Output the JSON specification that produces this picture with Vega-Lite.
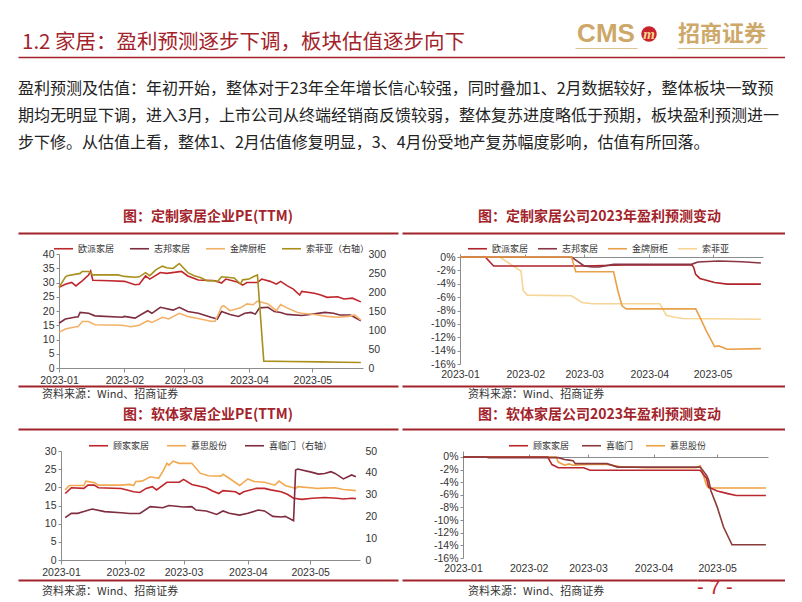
{
"$schema": "https://vega.github.io/schema/vega-lite/v6.json",
"background": "white",
"padding": {"left": 18, "top": 21, "right": 0, "bottom": 0},
"columns": 1,
"spacing": 0,
"align": "none",
"resolve": {"scale": {"color": "independent"}},
"config": {
  "font": "Noto Sans CJK SC",
  "view": {"stroke": null},
  "axis": {"labelFont": "Liberation Sans", "labelFontSize": 10.5, "labelColor": "#333333", "domainColor": "#8c8c8c", "tickColor": "#8c8c8c", "grid": false, "tickSize": 3, "labelPadding": 2},
  "legend": {"orient": "top", "direction": "horizontal", "symbolType": "stroke", "symbolSize": 361, "symbolStrokeWidth": 2, "labelFont": "Noto Sans CJK SC", "labelFontSize": 9, "labelColor": "#333333", "padding": 0, "labelOffset": 4, "layout": {"top": {"anchor": "middle"}}},
  "title": {"font": "Noto Sans CJK SC", "fontWeight": "bold", "fontSize": 14, "color": "#A3232A", "anchor": "middle", "offset": 8},
  "line": {"strokeWidth": 1.6}
},
"datasets": {
  "pe1a": [
    {"d":"2023-01-01","s":"欧派家居","v":28.3},{"d":"2023-01-04","s":"欧派家居","v":29.4},{"d":"2023-01-07","s":"欧派家居","v":30.0},{"d":"2023-01-09","s":"欧派家居","v":28.8},{"d":"2023-01-12","s":"欧派家居","v":30.6},{"d":"2023-01-15","s":"欧派家居","v":32.6},{"d":"2023-01-16","s":"欧派家居","v":34.0},{"d":"2023-01-17","s":"欧派家居","v":30.8},{"d":"2023-01-25","s":"欧派家居","v":30.6},{"d":"2023-02-01","s":"欧派家居","v":30.4},{"d":"2023-02-06","s":"欧派家居","v":29.2},{"d":"2023-02-08","s":"欧派家居","v":29.4},{"d":"2023-02-11","s":"欧派家居","v":32.3},{"d":"2023-02-13","s":"欧派家居","v":31.2},{"d":"2023-02-18","s":"欧派家居","v":33.5},{"d":"2023-02-21","s":"欧派家居","v":33.2},{"d":"2023-02-28","s":"欧派家居","v":33.9},{"d":"2023-03-03","s":"欧派家居","v":32.3},{"d":"2023-03-08","s":"欧派家居","v":30.9},{"d":"2023-03-16","s":"欧派家居","v":30.6},{"d":"2023-03-19","s":"欧派家居","v":29.8},{"d":"2023-03-21","s":"欧派家居","v":31.2},{"d":"2023-03-26","s":"欧派家居","v":30.3},{"d":"2023-03-29","s":"欧派家居","v":29.1},{"d":"2023-03-31","s":"欧派家居","v":30.0},{"d":"2023-04-05","s":"欧派家居","v":30.0},{"d":"2023-04-07","s":"欧派家居","v":31.2},{"d":"2023-04-11","s":"欧派家居","v":30.4},{"d":"2023-04-14","s":"欧派家居","v":29.4},{"d":"2023-04-16","s":"欧派家居","v":30.4},{"d":"2023-04-19","s":"欧派家居","v":28.9},{"d":"2023-04-22","s":"欧派家居","v":27.7},{"d":"2023-04-25","s":"欧派家居","v":25.6},{"d":"2023-04-26","s":"欧派家居","v":26.9},{"d":"2023-05-02","s":"欧派家居","v":26.2},{"d":"2023-05-05","s":"欧派家居","v":25.6},{"d":"2023-05-08","s":"欧派家居","v":24.8},{"d":"2023-05-13","s":"欧派家居","v":25.0},{"d":"2023-05-16","s":"欧派家居","v":24.2},{"d":"2023-05-20","s":"欧派家居","v":24.5},{"d":"2023-05-24","s":"欧派家居","v":23.2},
    {"d":"2023-01-01","s":"志邦家居","v":15.7},{"d":"2023-01-04","s":"志邦家居","v":17.2},{"d":"2023-01-09","s":"志邦家居","v":17.9},{"d":"2023-01-10","s":"志邦家居","v":17.9},{"d":"2023-01-11","s":"志邦家居","v":19.5},{"d":"2023-01-15","s":"志邦家居","v":19.2},{"d":"2023-01-18","s":"志邦家居","v":18.3},{"d":"2023-01-31","s":"志邦家居","v":17.8},{"d":"2023-02-01","s":"志邦家居","v":18.1},{"d":"2023-02-06","s":"志邦家居","v":17.5},{"d":"2023-02-12","s":"志邦家居","v":20.1},{"d":"2023-02-14","s":"志邦家居","v":19.2},{"d":"2023-02-18","s":"志邦家居","v":21.3},{"d":"2023-02-24","s":"志邦家居","v":20.3},{"d":"2023-02-27","s":"志邦家居","v":21.3},{"d":"2023-03-03","s":"志邦家居","v":19.8},{"d":"2023-03-08","s":"志邦家居","v":19.2},{"d":"2023-03-14","s":"志邦家居","v":17.8},{"d":"2023-03-17","s":"志邦家居","v":17.2},{"d":"2023-03-19","s":"志邦家居","v":19.8},{"d":"2023-03-23","s":"志邦家居","v":18.8},{"d":"2023-03-27","s":"志邦家居","v":18.1},{"d":"2023-03-30","s":"志邦家居","v":19.2},{"d":"2023-04-02","s":"志邦家居","v":19.5},{"d":"2023-04-04","s":"志邦家居","v":18.9},{"d":"2023-04-06","s":"志邦家居","v":21.1},{"d":"2023-04-10","s":"志邦家居","v":21.3},{"d":"2023-04-13","s":"志邦家居","v":19.8},{"d":"2023-04-16","s":"志邦家居","v":19.5},{"d":"2023-04-19","s":"志邦家居","v":18.8},{"d":"2023-04-26","s":"志邦家居","v":18.4},{"d":"2023-05-02","s":"志邦家居","v":19.0},{"d":"2023-05-07","s":"志邦家居","v":19.5},{"d":"2023-05-11","s":"志邦家居","v":19.2},{"d":"2023-05-14","s":"志邦家居","v":18.6},{"d":"2023-05-19","s":"志邦家居","v":18.6},{"d":"2023-05-24","s":"志邦家居","v":16.6},
    {"d":"2023-01-01","s":"金牌厨柜","v":12.5},{"d":"2023-01-04","s":"金牌厨柜","v":13.7},{"d":"2023-01-09","s":"金牌厨柜","v":14.5},{"d":"2023-01-10","s":"金牌厨柜","v":14.5},{"d":"2023-01-12","s":"金牌厨柜","v":16.3},{"d":"2023-01-15","s":"金牌厨柜","v":16.3},{"d":"2023-01-18","s":"金牌厨柜","v":15.2},{"d":"2023-01-31","s":"金牌厨柜","v":15.0},{"d":"2023-02-04","s":"金牌厨柜","v":14.5},{"d":"2023-02-08","s":"金牌厨柜","v":15.0},{"d":"2023-02-12","s":"金牌厨柜","v":16.6},{"d":"2023-02-14","s":"金牌厨柜","v":16.0},{"d":"2023-02-19","s":"金牌厨柜","v":17.8},{"d":"2023-02-22","s":"金牌厨柜","v":17.2},{"d":"2023-02-27","s":"金牌厨柜","v":19.2},{"d":"2023-03-03","s":"金牌厨柜","v":18.1},{"d":"2023-03-09","s":"金牌厨柜","v":17.2},{"d":"2023-03-14","s":"金牌厨柜","v":16.4},{"d":"2023-03-16","s":"金牌厨柜","v":16.4},{"d":"2023-03-19","s":"金牌厨柜","v":21.5},{"d":"2023-03-20","s":"金牌厨柜","v":21.9},{"d":"2023-03-23","s":"金牌厨柜","v":20.1},{"d":"2023-03-28","s":"金牌厨柜","v":21.1},{"d":"2023-03-31","s":"金牌厨柜","v":22.5},{"d":"2023-04-03","s":"金牌厨柜","v":22.2},{"d":"2023-04-05","s":"金牌厨柜","v":23.5},{"d":"2023-04-10","s":"金牌厨柜","v":22.5},{"d":"2023-04-14","s":"金牌厨柜","v":20.1},{"d":"2023-04-16","s":"金牌厨柜","v":22.3},{"d":"2023-04-19","s":"金牌厨柜","v":21.1},{"d":"2023-04-24","s":"金牌厨柜","v":19.5},{"d":"2023-04-26","s":"金牌厨柜","v":19.2},{"d":"2023-05-02","s":"金牌厨柜","v":18.8},{"d":"2023-05-08","s":"金牌厨柜","v":18.1},{"d":"2023-05-13","s":"金牌厨柜","v":17.8},{"d":"2023-05-18","s":"金牌厨柜","v":18.1},{"d":"2023-05-21","s":"金牌厨柜","v":18.6},{"d":"2023-05-24","s":"金牌厨柜","v":16.8}
  ],
  "pe1b": [
    {"d":"2023-01-01","s":"索菲亚（右轴）","v":212},{"d":"2023-01-04","s":"索菲亚（右轴）","v":239},{"d":"2023-01-05","s":"索菲亚（右轴）","v":243},{"d":"2023-01-11","s":"索菲亚（右轴）","v":249},{"d":"2023-01-12","s":"索菲亚（右轴）","v":254},{"d":"2023-01-15","s":"索菲亚（右轴）","v":254},{"d":"2023-01-17","s":"索菲亚（右轴）","v":245},{"d":"2023-01-29","s":"索菲亚（右轴）","v":245},{"d":"2023-02-01","s":"索菲亚（右轴）","v":241},{"d":"2023-02-06","s":"索菲亚（右轴）","v":239},{"d":"2023-02-08","s":"索菲亚（右轴）","v":240},{"d":"2023-02-11","s":"索菲亚（右轴）","v":251},{"d":"2023-02-13","s":"索菲亚（右轴）","v":243},{"d":"2023-02-16","s":"索菲亚（右轴）","v":259},{"d":"2023-02-19","s":"索菲亚（右轴）","v":268},{"d":"2023-02-21","s":"索菲亚（右轴）","v":264},{"d":"2023-02-24","s":"索菲亚（右轴）","v":262},{"d":"2023-02-27","s":"索菲亚（右轴）","v":275},{"d":"2023-02-28","s":"索菲亚（右轴）","v":269},{"d":"2023-03-03","s":"索菲亚（右轴）","v":251},{"d":"2023-03-06","s":"索菲亚（右轴）","v":243},{"d":"2023-03-09","s":"索菲亚（右轴）","v":238},{"d":"2023-03-12","s":"索菲亚（右轴）","v":230},{"d":"2023-03-15","s":"索菲亚（右轴）","v":230},{"d":"2023-03-17","s":"索菲亚（右轴）","v":227},{"d":"2023-03-19","s":"索菲亚（右轴）","v":240},{"d":"2023-03-25","s":"索菲亚（右轴）","v":237},{"d":"2023-03-28","s":"索菲亚（右轴）","v":221},{"d":"2023-03-29","s":"索菲亚（右轴）","v":232},{"d":"2023-04-01","s":"索菲亚（右轴）","v":234},{"d":"2023-04-03","s":"索菲亚（右轴）","v":240},{"d":"2023-04-05","s":"索菲亚（右轴）","v":245},{"d":"2023-04-08","s":"索菲亚（右轴）","v":18},{"d":"2023-04-20","s":"索菲亚（右轴）","v":17},{"d":"2023-05-05","s":"索菲亚（右轴）","v":16},{"d":"2023-05-15","s":"索菲亚（右轴）","v":15},{"d":"2023-05-24","s":"索菲亚（右轴）","v":14.5}
  ],
  "fc1a": [
    {"d":"2023-01-01","s":"欧派家居","v":0},{"d":"2023-01-13","s":"欧派家居","v":0},{"d":"2023-01-17","s":"欧派家居","v":-1.35},{"d":"2023-03-01","s":"欧派家居","v":-1.35},{"d":"2023-03-20","s":"欧派家居","v":-1.2},{"d":"2023-04-21","s":"欧派家居","v":-1.15},{"d":"2023-04-22","s":"欧派家居","v":-1.5},{"d":"2023-04-23","s":"欧派家居","v":-2.6},{"d":"2023-04-25","s":"欧派家居","v":-3.2},{"d":"2023-05-02","s":"欧派家居","v":-3.8},{"d":"2023-05-08","s":"欧派家居","v":-4.05},{"d":"2023-05-24","s":"欧派家居","v":-4.05},
    {"d":"2023-01-01","s":"志邦家居","v":0},{"d":"2023-02-23","s":"志邦家居","v":0},{"d":"2023-03-01","s":"志邦家居","v":-1.33},{"d":"2023-03-05","s":"志邦家居","v":-1.5},{"d":"2023-03-08","s":"志邦家居","v":-1.5},{"d":"2023-03-15","s":"志邦家居","v":-1.1},{"d":"2023-04-21","s":"志邦家居","v":-1.1},{"d":"2023-04-24","s":"志邦家居","v":-0.75},{"d":"2023-05-04","s":"志邦家居","v":-0.6},{"d":"2023-05-15","s":"志邦家居","v":-0.7},{"d":"2023-05-24","s":"志邦家居","v":-0.9},
    {"d":"2023-01-01","s":"金牌厨柜","v":0},{"d":"2023-02-23","s":"金牌厨柜","v":0},{"d":"2023-02-25","s":"金牌厨柜","v":-2.2},{"d":"2023-03-15","s":"金牌厨柜","v":-2.2},{"d":"2023-03-17","s":"金牌厨柜","v":-5.0},{"d":"2023-03-19","s":"金牌厨柜","v":-7.3},{"d":"2023-03-21","s":"金牌厨柜","v":-7.75},{"d":"2023-04-23","s":"金牌厨柜","v":-7.75},{"d":"2023-04-25","s":"金牌厨柜","v":-9.0},{"d":"2023-04-28","s":"金牌厨柜","v":-11.0},{"d":"2023-05-02","s":"金牌厨柜","v":-13.4},{"d":"2023-05-04","s":"金牌厨柜","v":-13.3},{"d":"2023-05-08","s":"金牌厨柜","v":-13.8},{"d":"2023-05-24","s":"金牌厨柜","v":-13.7}
  ],
  "fc1b": [
    {"d":"2023-01-01","s":"索菲亚","v":0},{"d":"2023-01-20","s":"索菲亚","v":0},{"d":"2023-01-26","s":"索菲亚","v":-1.3},{"d":"2023-01-30","s":"索菲亚","v":-2.1},{"d":"2023-01-31","s":"索菲亚","v":-5.0},{"d":"2023-02-02","s":"索菲亚","v":-5.7},{"d":"2023-02-23","s":"索菲亚","v":-5.8},{"d":"2023-02-28","s":"索菲亚","v":-6.8},{"d":"2023-03-05","s":"索菲亚","v":-7.0},{"d":"2023-04-06","s":"索菲亚","v":-7.0},{"d":"2023-04-09","s":"索菲亚","v":-8.7},{"d":"2023-04-13","s":"索菲亚","v":-9.0},{"d":"2023-04-17","s":"索菲亚","v":-9.2},{"d":"2023-05-24","s":"索菲亚","v":-9.3}
  ],
  "pe2a": [
    {"d":"2023-01-03","s":"顾家家居","v":18.3},{"d":"2023-01-04","s":"顾家家居","v":18.8},{"d":"2023-01-06","s":"顾家家居","v":19.9},{"d":"2023-01-12","s":"顾家家居","v":19.7},{"d":"2023-01-14","s":"顾家家居","v":20.6},{"d":"2023-01-17","s":"顾家家居","v":20.6},{"d":"2023-01-19","s":"顾家家居","v":19.9},{"d":"2023-01-30","s":"顾家家居","v":19.7},{"d":"2023-02-05","s":"顾家家居","v":18.8},{"d":"2023-02-08","s":"顾家家居","v":18.6},{"d":"2023-02-11","s":"顾家家居","v":19.7},{"d":"2023-02-14","s":"顾家家居","v":20.2},{"d":"2023-02-16","s":"顾家家居","v":19.3},{"d":"2023-02-21","s":"顾家家居","v":21.4},{"d":"2023-02-27","s":"顾家家居","v":21.4},{"d":"2023-03-01","s":"顾家家居","v":22.2},{"d":"2023-03-05","s":"顾家家居","v":20.8},{"d":"2023-03-12","s":"顾家家居","v":19.9},{"d":"2023-03-15","s":"顾家家居","v":19.0},{"d":"2023-03-18","s":"顾家家居","v":18.3},{"d":"2023-03-20","s":"顾家家居","v":19.1},{"d":"2023-03-26","s":"顾家家居","v":18.8},{"d":"2023-03-28","s":"顾家家居","v":18.1},{"d":"2023-03-30","s":"顾家家居","v":18.8},{"d":"2023-04-05","s":"顾家家居","v":19.7},{"d":"2023-04-09","s":"顾家家居","v":19.7},{"d":"2023-04-12","s":"顾家家居","v":19.3},{"d":"2023-04-17","s":"顾家家居","v":18.8},{"d":"2023-04-20","s":"顾家家居","v":18.1},{"d":"2023-04-23","s":"顾家家居","v":17.0},{"d":"2023-04-27","s":"顾家家居","v":16.7},{"d":"2023-05-02","s":"顾家家居","v":17.0},{"d":"2023-05-08","s":"顾家家居","v":17.2},{"d":"2023-05-14","s":"顾家家居","v":17.0},{"d":"2023-05-17","s":"顾家家居","v":16.8},{"d":"2023-05-21","s":"顾家家居","v":17.0},{"d":"2023-05-23","s":"顾家家居","v":16.9},
    {"d":"2023-01-03","s":"慕思股份","v":19.3},{"d":"2023-01-05","s":"慕思股份","v":20.5},{"d":"2023-01-12","s":"慕思股份","v":20.5},{"d":"2023-01-13","s":"慕思股份","v":21.7},{"d":"2023-01-17","s":"慕思股份","v":21.3},{"d":"2023-01-19","s":"慕思股份","v":20.6},{"d":"2023-01-30","s":"慕思股份","v":20.6},{"d":"2023-02-03","s":"慕思股份","v":20.8},{"d":"2023-02-05","s":"慕思股份","v":20.5},{"d":"2023-02-06","s":"慕思股份","v":21.6},{"d":"2023-02-09","s":"慕思股份","v":21.7},{"d":"2023-02-13","s":"慕思股份","v":22.9},{"d":"2023-02-17","s":"慕思股份","v":22.5},{"d":"2023-02-19","s":"慕思股份","v":24.3},{"d":"2023-02-21","s":"慕思股份","v":26.6},{"d":"2023-02-22","s":"慕思股份","v":26.1},{"d":"2023-02-24","s":"慕思股份","v":27.2},{"d":"2023-02-27","s":"慕思股份","v":26.6},{"d":"2023-03-05","s":"慕思股份","v":26.6},{"d":"2023-03-09","s":"慕思股份","v":23.9},{"d":"2023-03-13","s":"慕思股份","v":23.2},{"d":"2023-03-19","s":"慕思股份","v":23.1},{"d":"2023-03-20","s":"慕思股份","v":23.6},{"d":"2023-03-23","s":"慕思股份","v":22.5},{"d":"2023-03-28","s":"慕思股份","v":20.5},{"d":"2023-04-01","s":"慕思股份","v":22.3},{"d":"2023-04-04","s":"慕思股份","v":21.6},{"d":"2023-04-09","s":"慕思股份","v":21.4},{"d":"2023-04-14","s":"慕思股份","v":20.6},{"d":"2023-04-16","s":"慕思股份","v":21.7},{"d":"2023-04-19","s":"慕思股份","v":20.5},{"d":"2023-04-24","s":"慕思股份","v":19.7},{"d":"2023-04-25","s":"慕思股份","v":20.2},{"d":"2023-05-05","s":"慕思股份","v":19.7},{"d":"2023-05-13","s":"慕思股份","v":19.9},{"d":"2023-05-17","s":"慕思股份","v":19.4},{"d":"2023-05-23","s":"慕思股份","v":19.1}
  ],
  "pe2b": [
    {"d":"2023-01-03","s":"喜临门（右轴）","v":19.4},{"d":"2023-01-06","s":"喜临门（右轴）","v":21.4},{"d":"2023-01-09","s":"喜临门（右轴）","v":21.4},{"d":"2023-01-12","s":"喜临门（右轴）","v":22.2},{"d":"2023-01-16","s":"喜临门（右轴）","v":23.4},{"d":"2023-01-22","s":"喜临门（右轴）","v":22.2},{"d":"2023-01-30","s":"喜临门（右轴）","v":21.7},{"d":"2023-02-03","s":"喜临门（右轴）","v":21.3},{"d":"2023-02-08","s":"喜临门（右轴）","v":21.4},{"d":"2023-02-13","s":"喜临门（右轴）","v":24.5},{"d":"2023-02-19","s":"喜临门（右轴）","v":24.0},{"d":"2023-02-22","s":"喜临门（右轴）","v":25.0},{"d":"2023-03-01","s":"喜临门（右轴）","v":24.3},{"d":"2023-03-05","s":"喜临门（右轴）","v":24.5},{"d":"2023-03-07","s":"喜临门（右轴）","v":22.9},{"d":"2023-03-12","s":"喜临门（右轴）","v":22.5},{"d":"2023-03-17","s":"喜临门（右轴）","v":20.9},{"d":"2023-03-20","s":"喜临门（右轴）","v":22.5},{"d":"2023-03-23","s":"喜临门（右轴）","v":21.4},{"d":"2023-03-28","s":"喜临门（右轴）","v":20.6},{"d":"2023-04-01","s":"喜临门（右轴）","v":21.4},{"d":"2023-04-06","s":"喜临门（右轴）","v":22.9},{"d":"2023-04-09","s":"喜临门（右轴）","v":22.5},{"d":"2023-04-13","s":"喜临门（右轴）","v":20.0},{"d":"2023-04-17","s":"喜临门（右轴）","v":19.7},{"d":"2023-04-19","s":"喜临门（右轴）","v":20.0},{"d":"2023-04-23","s":"喜临门（右轴）","v":18.0},{"d":"2023-04-24","s":"喜临门（右轴）","v":41.3},{"d":"2023-04-25","s":"喜临门（右轴）","v":41.7},{"d":"2023-05-02","s":"喜临门（右轴）","v":40.2},{"d":"2023-05-05","s":"喜临门（右轴）","v":39.4},{"d":"2023-05-08","s":"喜临门（右轴）","v":39.7},{"d":"2023-05-11","s":"喜临门（右轴）","v":40.5},{"d":"2023-05-13","s":"喜临门（右轴）","v":39.7},{"d":"2023-05-17","s":"喜临门（右轴）","v":37.2},{"d":"2023-05-21","s":"喜临门（右轴）","v":39.0},{"d":"2023-05-23","s":"喜临门（右轴）","v":38.2}
  ],
  "fc2a": [
    {"d":"2023-01-01","s":"顾家家居","v":0},{"d":"2023-02-10","s":"顾家家居","v":0},{"d":"2023-02-12","s":"顾家家居","v":-1.2},{"d":"2023-02-15","s":"顾家家居","v":-1.7},{"d":"2023-02-27","s":"顾家家居","v":-1.7},{"d":"2023-03-02","s":"顾家家居","v":-2.1},{"d":"2023-04-23","s":"顾家家居","v":-2.1},{"d":"2023-04-26","s":"顾家家居","v":-3.4},{"d":"2023-04-27","s":"顾家家居","v":-4.8},{"d":"2023-05-01","s":"顾家家居","v":-5.4},{"d":"2023-05-06","s":"顾家家居","v":-5.8},{"d":"2023-05-10","s":"顾家家居","v":-6.1},{"d":"2023-05-24","s":"顾家家居","v":-6.1},
    {"d":"2023-01-01","s":"喜临门","v":0},{"d":"2023-01-12","s":"喜临门","v":0},{"d":"2023-01-13","s":"喜临门","v":-0.1},{"d":"2023-02-15","s":"喜临门","v":-0.1},{"d":"2023-02-18","s":"喜临门","v":-0.4},{"d":"2023-02-20","s":"喜临门","v":-0.5},{"d":"2023-02-22","s":"喜临门","v":-0.6},{"d":"2023-02-23","s":"喜临门","v":-1.05},{"d":"2023-03-10","s":"喜临门","v":-1.05},{"d":"2023-03-15","s":"喜临门","v":-1.6},{"d":"2023-04-23","s":"喜临门","v":-1.6},{"d":"2023-04-26","s":"喜临门","v":-2.9},{"d":"2023-04-27","s":"喜临门","v":-3.7},{"d":"2023-04-28","s":"喜临门","v":-5.3},{"d":"2023-05-01","s":"喜临门","v":-7.9},{"d":"2023-05-04","s":"喜临门","v":-11.1},{"d":"2023-05-08","s":"喜临门","v":-13.9},{"d":"2023-05-24","s":"喜临门","v":-13.9}
  ],
  "fc2b": [
    {"d":"2023-01-01","s":"慕思股份","v":0},{"d":"2023-02-14","s":"慕思股份","v":0},{"d":"2023-02-15","s":"慕思股份","v":-0.8},{"d":"2023-02-18","s":"慕思股份","v":-1.3},{"d":"2023-02-20","s":"慕思股份","v":-1.1},{"d":"2023-02-22","s":"慕思股份","v":-1.3},{"d":"2023-03-01","s":"慕思股份","v":-1.2},{"d":"2023-03-10","s":"慕思股份","v":-1.2},{"d":"2023-03-16","s":"慕思股份","v":-1.5},{"d":"2023-03-28","s":"慕思股份","v":-1.7},{"d":"2023-04-21","s":"慕思股份","v":-1.7},{"d":"2023-04-23","s":"慕思股份","v":-1.4},{"d":"2023-04-24","s":"慕思股份","v":-2.4},{"d":"2023-04-26","s":"慕思股份","v":-4.5},{"d":"2023-04-27","s":"慕思股份","v":-4.9},{"d":"2023-05-24","s":"慕思股份","v":-4.9}
  ]
},
"concat": [
  {
    "columns": 6, "spacing": 0, "align": "none",
    "concat": [
      {"width": 557, "height": 34, "data": {"values": [{"t": "1.2 家居：盈利预测逐步下调，板块估值逐步向下"}]},
       "mark": {"type": "text", "align": "left", "baseline": "middle", "dx": 4, "dy": 3, "fontSize": 20.5, "color": "#A3232A"},
       "encoding": {"x": {"datum": 0, "type": "quantitative", "scale": {"domain": [0, 1]}, "axis": null}, "text": {"field": "t"}}},
      {"width": 62, "height": 22, "data": {"values": [{"k": 1}]},
       "layer": [
         {"mark": {"type": "text", "text": "CMS", "font": "Liberation Sans", "fontWeight": "bold", "fontSize": 26, "color": "#CDA869", "baseline": "middle", "align": "center"}},
         {"data": {"values": []}, "mark": "point", "encoding": {"x": {"field": "v", "type": "quantitative", "scale": {"domain": [0, 1]}, "axis": {"orient": "bottom", "domainColor": "#DCC38F", "domainWidth": 1, "ticks": false, "labels": false, "title": null, "offset": 3}}}}
       ]},
      {"width": 24, "height": 22, "data": {"values": [{"k": 1}]},
       "layer": [
         {"mark": {"type": "point", "shape": "circle", "filled": true, "size": 240, "color": "#C8232C", "opacity": 1}},
         {"mark": {"type": "text", "text": "m", "font": "Liberation Serif", "fontStyle": "italic", "fontWeight": "bold", "fontSize": 15, "color": "#F4D58D", "baseline": "middle", "align": "center"}}
       ]},
      {"width": 16, "height": 1, "data": {"values": []}, "mark": "point"},
      {"width": 90, "height": 22, "data": {"values": [{"k": 1}]},
       "layer": [
         {"mark": {"type": "text", "text": "招商证券", "fontWeight": "bold", "fontSize": 22, "color": "#CDA869", "baseline": "middle", "align": "center"}},
         {"data": {"values": []}, "mark": "point", "encoding": {"x": {"field": "v", "type": "quantitative", "scale": {"domain": [0, 1]}, "axis": {"orient": "bottom", "domainColor": "#DCC38F", "domainWidth": 1, "ticks": false, "labels": false, "title": null, "offset": 3}}}}
       ]},
      {"width": 1, "height": 1, "data": {"values": []}, "mark": "point"}
    ]
  },
  {"width": 767, "height": 153,
   "data": {"values": [
     {"n": 1, "t": "盈利预测及估值：年初开始，整体对于23年全年增长信心较强，同时叠加1、2月数据较好，整体板块一致预"},
     {"n": 2, "t": "期均无明显下调，进入3月，上市公司从终端经销商反馈较弱，整体复苏进度略低于预期，板块盈利预测进一"},
     {"n": 3, "t": "步下修。从估值上看，整体1、2月估值修复明显，3、4月份受地产复苏幅度影响，估值有所回落。"}
   ]},
   "mark": {"type": "text", "align": "left", "baseline": "middle", "fontSize": 16, "color": "#222222"},
   "encoding": {
     "x": {"datum": 0, "type": "quantitative", "scale": {"domain": [0, 1]}, "axis": {"orient": "top", "domainColor": "#A3232A", "domainWidth": 1.5, "ticks": false, "labels": false, "title": null}},
     "y": {"field": "n", "type": "quantitative", "scale": {"domain": [-0.185, 5.482], "reverse": true, "nice": false, "zero": false}, "axis": null},
     "text": {"field": "t"}
   }},
  {
    "columns": 2, "spacing": 4, "align": "none",
    "concat": [
      {"width": 380, "height": 1, "data": {"values": []}, "mark": "point",
       "encoding": {"x": {"field": "v", "type": "quantitative", "scale": {"domain": [0, 1]}, "axis": {"orient": "bottom", "domainColor": "#A3232A", "domainWidth": 2, "ticks": false, "labels": false, "title": null, "minExtent": 5}}},
       "title": {"text": "图：定制家居企业PE(TTM)"}},
      {"width": 383, "height": 1, "data": {"values": []}, "mark": "point",
       "encoding": {"x": {"field": "v", "type": "quantitative", "scale": {"domain": [0, 1]}, "axis": {"orient": "bottom", "domainColor": "#A3232A", "domainWidth": 2, "ticks": false, "labels": false, "title": null, "minExtent": 5}}},
       "title": {"text": "图：定制家居公司2023年盈利预测变动", "dx": 6}}
    ]
  },
  {
    "columns": 3, "spacing": 0, "align": "none",
    "resolve": {"scale": {"color": "independent"}},
    "concat": [
      {"width": 1, "height": 1, "data": {"values": []}, "mark": "point"},
      {"width": 304, "height": 114,
       "encoding": {
         "x": {"field": "d", "type": "temporal", "scale": {"type": "utc", "domain": [{"year": 2023, "month": 1, "date": 1, "utc": true}, {"year": 2023, "month": 5, "date": 25, "utc": true}]}, "axis": {"title": null, "format": "%Y-%m", "tickCount": {"interval": "month", "step": 1}, "labelPadding": 3, "minExtent": 17, "labelFlush": false, "tickSize": 4}},
         "color": {"field": "s", "type": "nominal", "scale": {"domain": ["欧派家居", "志邦家居", "金牌厨柜", "索菲亚（右轴）"], "range": ["#C0272D", "#7E2C3F", "#F3B168", "#A88F1C"]}, "legend": {"title": null, "columnPadding": 11, "offset": 0}}
       },
       "layer": [
         {"data": {"name": "pe1a"}, "mark": "line", "encoding": {"y": {"field": "v", "type": "quantitative", "scale": {"domain": [0, 40]}, "axis": {"orient": "left", "title": null, "values": [0, 5, 10, 15, 20, 25, 30, 35, 40], "minExtent": 40}}}},
         {"data": {"name": "pe1b"}, "mark": "line", "encoding": {"y": {"field": "v", "type": "quantitative", "scale": {"domain": [0, 300]}, "axis": {"orient": "right", "title": null, "values": [0, 50, 100, 150, 200, 250, 300], "domain": false, "ticks": false, "labelPadding": 5, "minExtent": 35}}}}
       ],
       "resolve": {"scale": {"y": "independent"}}
      },
      {"width": 303, "height": 110,
       "encoding": {
         "y": {"field": "v", "type": "quantitative", "scale": {"domain": [-16, 0.45], "nice": false}, "axis": {"title": null, "values": [-16, -14, -12, -10, -8, -6, -4, -2, 0], "labelExpr": "datum.value + '%'", "minExtent": 62}},
         "color": {"field": "s", "type": "nominal", "scale": {"domain": ["欧派家居", "志邦家居", "金牌厨柜", "索菲亚"], "range": ["#B0232A", "#8A3444", "#E9A04A", "#F6D596"]}, "legend": {"title": null, "columnPadding": 5, "orient": "none", "direction": "horizontal", "legendX": 7, "legendY": -16}}
       },
       "layer": [
         {"data": {"name": "fc1b"}, "mark": "line", "encoding": {"x": {"field": "d", "type": "temporal", "scale": {"type": "utc", "domain": [{"year": 2023, "month": 1, "date": 1, "utc": true}, {"year": 2023, "month": 5, "date": 25, "utc": true}]}, "axis": {"orient": "top", "title": null, "labels": false, "tickCount": {"interval": "month", "step": 1}, "domain": true, "ticks": true, "tickSize": 3, "offset": -3}}}},
         {"data": {"name": "fc1a"}, "mark": "line", "encoding": {"x": {"field": "d", "type": "temporal", "scale": {"type": "utc", "domain": [{"year": 2023, "month": 1, "date": 1, "utc": true}, {"year": 2023, "month": 5, "date": 25, "utc": true}]}, "axis": {"orient": "bottom", "title": null, "format": "%Y-%m", "tickCount": {"interval": "month", "step": 1}, "domain": false, "ticks": false, "labelPadding": 5, "minExtent": 21, "labelFlush": false}}}}
       ],
       "resolve": {"axis": {"x": "independent"}}
      }
    ]
  },
  {
    "columns": 2, "spacing": 4, "align": "none",
    "concat": [
      {"width": 380, "height": 22, "data": {"values": []}, "mark": "point",
       "encoding": {"x": {"field": "v", "type": "quantitative", "scale": {"domain": [0, 1]}, "axis": {"orient": "top", "domainColor": "#A3232A", "domainWidth": 2, "ticks": false, "labels": false, "title": null}}},
       "title": {"text": "资料来源：Wind、招商证券", "orient": "bottom", "anchor": "start", "dx": 24, "offset": -19, "fontSize": 11, "fontWeight": "normal", "color": "#333333", "baseline": "top"}},
      {"width": 383, "height": 22, "data": {"values": []}, "mark": "point",
       "encoding": {"x": {"field": "v", "type": "quantitative", "scale": {"domain": [0, 1]}, "axis": {"orient": "top", "domainColor": "#A3232A", "domainWidth": 2, "ticks": false, "labels": false, "title": null}}},
       "title": {"text": "资料来源：Wind、招商证券", "orient": "bottom", "anchor": "start", "dx": 66, "offset": -19, "fontSize": 11, "fontWeight": "normal", "color": "#333333", "baseline": "top"}}
    ]
  },
  {
    "columns": 2, "spacing": 4, "align": "none",
    "concat": [
      {"width": 380, "height": 1, "data": {"values": []}, "mark": "point",
       "encoding": {"x": {"field": "v", "type": "quantitative", "scale": {"domain": [0, 1]}, "axis": {"orient": "bottom", "domainColor": "#A3232A", "domainWidth": 2, "ticks": false, "labels": false, "title": null, "minExtent": 6}}},
       "title": {"text": "图：软体家居企业PE(TTM)", "offset": 6}},
      {"width": 383, "height": 1, "data": {"values": []}, "mark": "point",
       "encoding": {"x": {"field": "v", "type": "quantitative", "scale": {"domain": [0, 1]}, "axis": {"orient": "bottom", "domainColor": "#A3232A", "domainWidth": 2, "ticks": false, "labels": false, "title": null, "minExtent": 6}}},
       "title": {"text": "图：软体家居公司2023年盈利预测变动", "dx": 6, "offset": 6}}
    ]
  },
  {
    "columns": 3, "spacing": 0, "align": "none",
    "resolve": {"scale": {"color": "independent"}},
    "concat": [
      {"width": 1, "height": 1, "data": {"values": []}, "mark": "point"},
      {"width": 299, "height": 109,
       "encoding": {
         "x": {"field": "d", "type": "temporal", "scale": {"type": "utc", "domain": [{"year": 2023, "month": 1, "date": 1, "utc": true}, {"year": 2023, "month": 5, "date": 25, "utc": true}]}, "axis": {"title": null, "format": "%Y-%m", "tickCount": {"interval": "month", "step": 1}, "labelPadding": 3, "minExtent": 18, "labelFlush": false, "tickSize": 4}},
         "color": {"field": "s", "type": "nominal", "scale": {"domain": ["顾家家居", "慕思股份", "喜临门（右轴）"], "range": ["#C0272D", "#F2AA52", "#7E2C3F"]}, "legend": {"title": null, "columnPadding": 13, "offset": 0}}
       },
       "layer": [
         {"data": {"name": "pe2a"}, "mark": "line", "encoding": {"y": {"field": "v", "type": "quantitative", "scale": {"domain": [0, 30]}, "axis": {"orient": "left", "title": null, "values": [0, 5, 10, 15, 20, 25, 30], "minExtent": 42}}}},
         {"data": {"name": "pe2b"}, "mark": "line", "encoding": {"y": {"field": "v", "type": "quantitative", "scale": {"domain": [0, 50]}, "axis": {"orient": "right", "title": null, "values": [0, 10, 20, 30, 40, 50], "domain": false, "ticks": false, "labelPadding": 5, "minExtent": 38}}}}
       ],
       "resolve": {"scale": {"y": "independent"}}
      },
      {"width": 305, "height": 107,
       "encoding": {
         "y": {"field": "v", "type": "quantitative", "scale": {"domain": [-16, 0.95], "nice": false}, "axis": {"title": null, "values": [-16, -14, -12, -10, -8, -6, -4, -2, 0], "labelExpr": "datum.value + '%'", "minExtent": 65}},
         "color": {"field": "s", "type": "nominal", "scale": {"domain": ["顾家家居", "喜临门", "慕思股份"], "range": ["#B8282E", "#8A3B3B", "#F0A040"]}, "legend": {"title": null, "columnPadding": 8, "orient": "none", "direction": "horizontal", "legendX": 45, "legendY": -16}}
       },
       "layer": [
         {"data": {"name": "fc2b"}, "mark": "line", "encoding": {"x": {"field": "d", "type": "temporal", "scale": {"type": "utc", "domain": [{"year": 2023, "month": 1, "date": 1, "utc": true}, {"year": 2023, "month": 5, "date": 25, "utc": true}]}, "axis": {"orient": "top", "title": null, "labels": false, "tickCount": {"interval": "month", "step": 1}, "domain": true, "ticks": true, "tickSize": 3, "offset": -6}}}},
         {"data": {"name": "fc2a"}, "mark": "line", "encoding": {"x": {"field": "d", "type": "temporal", "scale": {"type": "utc", "domain": [{"year": 2023, "month": 1, "date": 1, "utc": true}, {"year": 2023, "month": 5, "date": 25, "utc": true}]}, "axis": {"orient": "bottom", "title": null, "format": "%Y-%m", "tickCount": {"interval": "month", "step": 1}, "domain": false, "ticks": false, "labelPadding": 5, "minExtent": 20, "labelFlush": false}}}}
       ],
       "resolve": {"axis": {"x": "independent"}}
      }
    ]
  },
  {
    "columns": 2, "spacing": 4, "align": "none",
    "concat": [
      {"width": 380, "height": 1, "data": {"values": []}, "mark": "point",
       "encoding": {"x": {"field": "v", "type": "quantitative", "scale": {"domain": [0, 1]}, "axis": {"orient": "top", "domainColor": "#A3232A", "domainWidth": 2, "ticks": false, "labels": false, "title": null}}},
       "title": {"text": "资料来源：Wind、招商证券", "orient": "bottom", "anchor": "start", "dx": 24, "offset": 5, "fontSize": 11, "fontWeight": "normal", "color": "#333333", "baseline": "top"}},
      {
        "columns": 2, "spacing": 0, "align": "none",
        "concat": [
          {"width": 295, "height": 1, "data": {"values": []}, "mark": "point",
           "encoding": {"x": {"field": "v", "type": "quantitative", "scale": {"domain": [0, 1]}, "axis": {"orient": "top", "domainColor": "#A3232A", "domainWidth": 2, "ticks": false, "labels": false, "title": null}}},
           "title": {"text": "资料来源：Wind、招商证券", "orient": "bottom", "anchor": "start", "dx": 66, "offset": 5, "fontSize": 11, "fontWeight": "normal", "color": "#333333", "baseline": "top"}},
          {"width": 88, "height": 1, "data": {"values": []}, "mark": "point",
           "encoding": {"x": {"field": "v", "type": "quantitative", "scale": {"domain": [0, 1]}, "axis": {"orient": "top", "domainColor": "#A3232A", "domainWidth": 2, "ticks": false, "labels": false, "title": null}}},
           "title": {"text": "- 7 -", "orient": "bottom", "anchor": "start", "offset": -3, "font": "Liberation Sans", "fontSize": 20, "fontWeight": "normal", "color": "#C0272D", "baseline": "top"}}
        ]
      }
    ]
  }
]
}
